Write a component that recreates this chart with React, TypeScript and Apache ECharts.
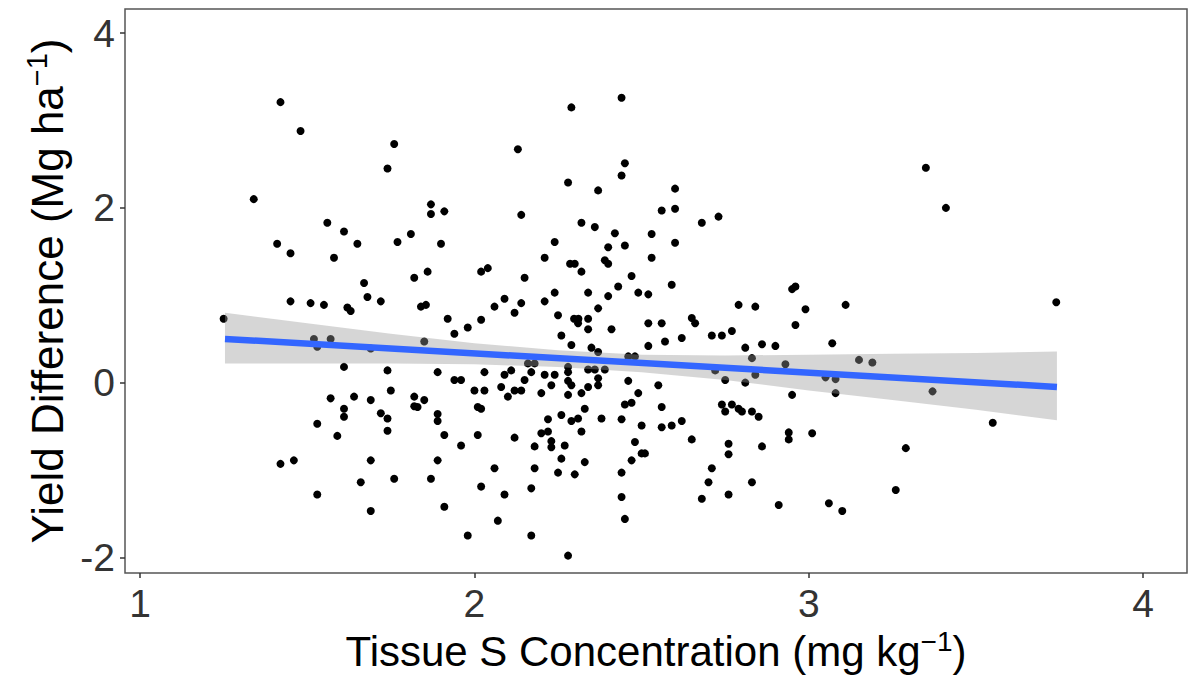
import React, { useEffect, useRef } from "react";
import * as echarts from "echarts";

// Tissue S concentration (mg kg-1), x values of the points
const tissueS = [
  1.42, 1.48, 1.76, 1.74, 1.34, 1.56, 1.61, 1.41, 1.65, 1.77, 1.81, 1.45, 1.58, 1.82, 1.67, 1.68, 1.45, 1.51, 1.55, 1.62,
  1.63, 1.72, 1.84, 1.855, 1.25, 1.52, 1.57, 1.53, 1.69, 1.61, 1.74, 1.75, 1.57, 1.64, 1.69, 1.82, 1.82, 1.83, 1.61, 1.61,
  1.72, 1.74, 1.53, 1.74, 1.59, 1.42, 1.46, 1.69, 1.66, 1.76, 1.53, 1.69, 2.29, 2.13, 2.28, 2.37, 1.87, 1.87, 1.91, 2.14,
  2.32, 2.36, 1.9, 2.24, 2.4, 2.21, 2.286, 2.3, 2.39, 2.4, 1.86, 2.02, 2.04, 2.32, 2.15, 2.24, 2.34, 2.4, 2.09, 2.06,
  2.14, 2.21, 2.12, 2.37, 1.92, 2.02, 1.98, 1.94, 2.25, 2.298, 2.311, 2.31, 2.34, 2.34, 2.41, 2.26, 2.29, 2.35, 2.37, 1.85,
  2.16, 2.18, 2.28, 2.34, 2.36, 2.39, 1.89, 1.94, 1.96, 2.03, 2.09, 2.11, 2.17, 2.21, 2.24, 2.28, 2.37, 2.15, 2.28, 2.29,
  2.37, 2.34, 2.0, 2.03, 2.08, 2.12, 2.14, 2.1, 2.23, 2.2, 2.28, 2.32, 1.85, 2.01, 2.02, 2.33, 1.89, 1.89, 2.22, 2.26,
  2.29, 2.31, 2.38, 1.91, 2.01, 2.12, 2.2, 2.22, 2.32, 1.96, 2.18, 2.23, 2.23, 2.27, 1.89, 2.26, 2.33, 1.87, 2.06, 2.18,
  2.25, 2.3, 2.02, 2.17, 2.09, 1.91, 2.07, 1.98, 2.17, 2.28, 2.44, 2.45, 2.44, 2.6, 2.56, 2.6, 2.68, 2.73, 2.42, 2.53,
  2.45, 2.6, 2.53, 2.47, 2.43, 2.49, 2.52, 2.59, 2.95, 2.96, 2.79, 2.84, 2.99, 2.96, 2.52, 2.56, 2.65, 2.66, 2.71, 2.74,
  2.77, 2.52, 2.57, 2.62, 2.81, 2.86, 2.9, 2.46, 2.48, 2.83, 2.93, 2.72, 2.75, 2.81, 2.84, 2.46, 2.55, 2.49, 2.95, 2.45,
  2.47, 2.56, 2.74, 2.75, 2.77, 2.79, 2.8, 2.83, 2.85, 2.44, 2.5, 2.56, 2.59, 2.62, 2.94, 2.94, 3.01, 2.48, 2.65, 2.76,
  2.76, 2.86, 2.5, 2.51, 2.47, 2.44, 2.71, 2.7, 2.83, 2.44, 2.68, 2.76, 2.91, 2.45, 3.35, 3.41, 3.11, 3.74, 3.07, 3.15,
  3.19, 3.05, 3.08, 3.08, 3.37, 3.55, 3.29, 3.26, 3.06, 3.1,
];

// Yield difference (Mg ha-1), y values of the points
const yieldDiff = [
  3.21, 2.88, 2.73, 2.45, 2.1, 1.83, 1.73, 1.59, 1.59, 1.61, 1.7, 1.48, 1.43, 1.2, 1.14, 0.98, 0.93, 0.91, 0.89, 0.86,
  0.82, 0.93, 0.87, 0.89, 0.73, 0.5, 0.5, 0.41, 0.39, 0.18, 0.14, -0.09, -0.18, -0.16, -0.2, -0.16, -0.27, -0.28, -0.3, -0.39,
  -0.35, -0.41, -0.47, -0.55, -0.61, -0.93, -0.89, -0.89, -1.14, -1.1, -1.28, -1.47, 3.15, 2.67, 2.29, 2.2, 2.04, 1.93, 1.96, 1.92,
  1.83, 1.78, 1.59, 1.61, 1.55, 1.43, 1.36, 1.36, 1.4, 1.36, 1.27, 1.27, 1.31, 1.27, 1.2, 1.03, 1.03, 0.99, 0.96, 0.87,
  0.91, 0.93, 0.8, 0.85, 0.73, 0.72, 0.63, 0.56, 0.77, 0.73, 0.73, 0.68, 0.73, 0.61, 0.61, 0.54, 0.43, 0.4, 0.35, 0.47,
  0.22, 0.22, 0.18, 0.15, 0.15, 0.15, 0.12, 0.03, 0.03, 0.12, 0.09, 0.14, 0.12, 0.09, 0.09, 0.12, 0.05, 0.03, 0.02, -0.03,
  -0.03, -0.05, -0.09, -0.09, -0.05, -0.09, -0.09, -0.16, -0.03, -0.12, -0.14, -0.12, -0.2, -0.28, -0.3, -0.3, -0.36, -0.44, -0.42, -0.37,
  -0.44, -0.41, -0.41, -0.6, -0.6, -0.63, -0.58, -0.56, -0.56, -0.72, -0.73, -0.67, -0.74, -0.72, -0.89, -0.87, -0.91, -1.1, -0.98, -0.98,
  -1.03, -1.05, -1.19, -1.21, -1.28, -1.42, -1.58, -1.75, -1.75, -1.98, 3.26, 2.51, 2.37, 2.22, 1.97, 1.99, 1.83, 1.9, 1.71, 1.7,
  1.57, 1.6, 1.43, 1.22, 1.1, 1.03, 1.01, 1.12, 1.07, 1.1, 0.89, 0.87, 0.84, 0.66, 0.68, 0.68, 0.74, 0.68, 0.54, 0.54,
  0.59, 0.42, 0.47, 0.51, 0.4, 0.44, 0.42, 0.3, 0.3, 0.28, 0.21, 0.14, 0.03, 0.0, 0.09, 0.02, -0.03, -0.12, -0.14, -0.25,
  -0.23, -0.28, -0.25, -0.33, -0.25, -0.3, -0.33, -0.33, -0.39, -0.42, -0.49, -0.51, -0.49, -0.44, -0.57, -0.65, -0.58, -0.68, -0.65, -0.7,
  -0.82, -0.73, -0.81, -0.81, -0.89, -1.03, -0.98, -1.14, -1.14, -1.31, -1.33, -1.28, -1.4, -1.56, 2.46, 2.0, 0.89, 0.92, 0.45, 0.26,
  0.23, 0.06, 0.04, -0.12, -0.1, -0.46, -0.75, -1.23, -1.38, -1.47,
];

// Fitted regression line (end points)
const fitX = [1.254, 3.742];
const fitY = [0.5, -0.05];

// Confidence band
const bandX = [1.254, 1.5, 1.75, 2.0, 2.25, 2.5, 2.75, 3.0, 3.25, 3.5, 3.742];
const bandLow = [0.22, 0.22, 0.22, 0.21, 0.18, 0.12, 0.03, -0.09, -0.2, -0.31, -0.43];
const bandHigh = [0.8, 0.68, 0.56, 0.45, 0.37, 0.32, 0.31, 0.32, 0.33, 0.34, 0.355];

// Axis ticks
const xTicks = [1, 2, 3, 4];
const yTicks = [-2, 0, 2, 4];

const FONT = "'Liberation Sans', Arial, Helvetica, sans-serif";

export default function App() {
  const ref = useRef<HTMLDivElement>(null);

  useEffect(() => {
    if (!ref.current) return;
    const chart = echarts.init(ref.current, null, { renderer: "svg" });

    const points = tissueS.map((x, i) => [x, yieldDiff[i]]);
    const fit = fitX.map((x, i) => [x, fitY[i]]);

    const xRich = {
      t: { fontSize: 42, fontFamily: FONT, color: "#000", lineHeight: 48 },
      s: { fontSize: 28, fontFamily: FONT, color: "#000", verticalAlign: "top", lineHeight: 29 },
    };
    const yRich = {
      t: { fontSize: 44, fontFamily: FONT, color: "#000", lineHeight: 50 },
      s: { fontSize: 29, fontFamily: FONT, color: "#000", verticalAlign: "top", lineHeight: 30 },
    };

    const option = {
      animation: false,
      backgroundColor: "#fff",
      grid: {
        left: 125,
        right: 2,
        top: 9,
        bottom: 127,
        show: true,
        borderColor: "#555",
        borderWidth: 1.5,
        backgroundColor: "transparent",
      },
      xAxis: {
        type: "value",
        min: 0.955,
        max: 4.131,
        splitLine: { show: false },
        axisLine: { show: false, onZero: false },
        axisTick: { show: true, length: 5, customValues: xTicks, lineStyle: { color: "#333", width: 1.5 } },
        axisLabel: { customValues: xTicks, fontSize: 39, color: "#333", margin: 11, fontFamily: FONT },
        name: "{t|Tissue S Concentration (mg kg}{s|−1}{t|)}",
        nameLocation: "middle",
        nameGap: 52,
        nameTextStyle: { fontSize: 42, fontFamily: FONT, color: "#000", rich: xRich },
      },
      yAxis: {
        type: "value",
        min: -2.179,
        max: 4.276,
        splitLine: { show: false },
        axisLine: { show: false, onZero: false },
        axisTick: { show: true, length: 5, customValues: yTicks, lineStyle: { color: "#333", width: 1.5 } },
        axisLabel: { customValues: yTicks, fontSize: 39, color: "#333", margin: 10, fontFamily: FONT },
        name: "{t|Yield Difference (Mg ha}{s|−1}{t|)}",
        nameLocation: "middle",
        nameGap: 51,
        nameTextStyle: { fontSize: 44, fontFamily: FONT, color: "#000", rich: yRich },
      },
      series: [
        {
          type: "scatter",
          data: points,
          symbolSize: 8,
          itemStyle: { color: "#000", opacity: 1 },
          z: 2,
          silent: true,
        },
        {
          type: "custom",
          coordinateSystem: "cartesian2d",
          data: [[bandX[0], bandLow[0]]],
          z: 3,
          silent: true,
          renderItem: (_params: any, api: any) => {
            const top = bandX.map((x, i) => api.coord([x, bandHigh[i]]));
            const bottom = bandX.map((x, i) => api.coord([x, bandLow[i]])).reverse();
            return {
              type: "polygon",
              shape: { points: top.concat(bottom) },
              style: { fill: "rgba(153,153,153,0.4)", stroke: "none" },
            };
          },
        },
        {
          type: "line",
          data: fit,
          symbol: "none",
          lineStyle: { color: "#3366FF", width: 6.5 },
          z: 4,
          silent: true,
        },
      ],
    };

    chart.setOption(option as any);
    return () => chart.dispose();
  }, []);

  return (
    <div
      ref={ref}
      style={{ position: "absolute", left: 0, top: 0, width: 1189, height: 700, background: "#fff" }}
    />
  );
}
